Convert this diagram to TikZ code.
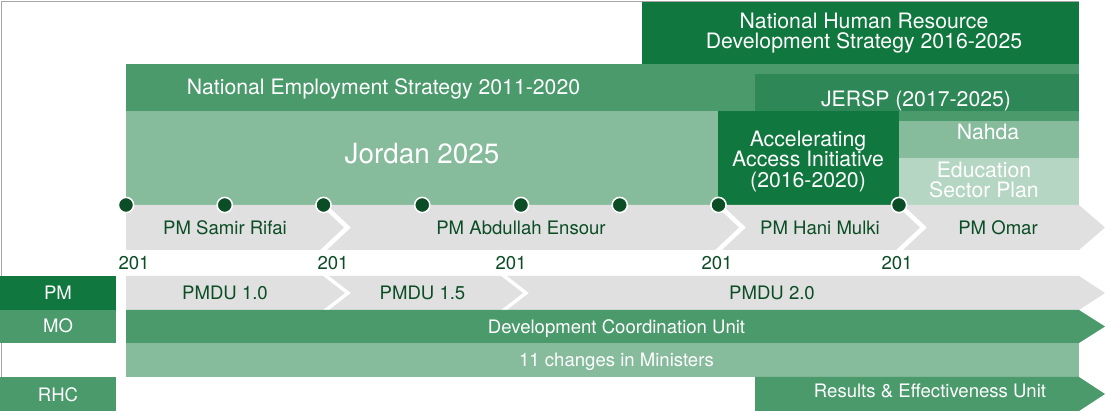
\documentclass[tikz,border=0pt]{standalone}
\usepackage{fontspec}
\setmainfont{TeX Gyre Heros}
\definecolor{deepgreen}{RGB}{16,119,62}
\definecolor{midgreen}{RGB}{74,154,108}
\definecolor{jerspgreen}{RGB}{45,135,86}
\definecolor{softgreen}{RGB}{134,187,156}
\definecolor{edugreen}{RGB}{180,214,194}
\definecolor{bandgray}{RGB}{224,224,224}
\definecolor{inkgreen}{RGB}{11,77,37}

\begin{document}
\begin{tikzpicture}[x=0.025cm, y=-0.025cm,
  lbl/.style={font=\fontsize{13.2}{15}\selectfont, text=white, anchor=base, inner sep=0pt},
  inklbl/.style={lbl, text=inkgreen},
  biglbl/.style={font=\fontsize{15.1}{15}\selectfont, text=white, anchor=base, inner sep=0pt},
  stack/.style={font=\fontsize{15.1}{#1}\selectfont, text=white, align=center, inner sep=0pt},
  milestone/.style={fill=inkgreen, draw=white, line width=1.1pt}]
\useasboundingbox (0,0) rectangle (1105,411);
\draw[gray!70, line width=0.6pt] (1,411) -- (1,1) -- (1079,1);
% strategies
\fill[deepgreen] (642, 2) rectangle (1079, 64);
\node[stack=14.2pt] (nhrd) at (864, 33) {National Human Resource\\Development Strategy 2016-2025};
\fill[midgreen] (126, 64) rectangle (1079, 121);
\node[biglbl] (nes) at (383.5, 95) {National Employment Strategy 2011-2020};
\fill[jerspgreen] (755, 74) rectangle (1079, 111);
\node[biglbl] (jersp) at (916, 106.7) {JERSP (2017-2025)};
\fill[softgreen] (126, 111) rectangle (718, 205);
\node[biglbl, font=\fontsize{19.8}{22}\selectfont] (jordan) at (422, 163.3) {Jordan 2025};
\fill[deepgreen] (718, 111) rectangle (899, 205);
\node[stack=14.9pt] (aai) at (808, 161.5) {Accelerating\\Access Initiative\\(2016-2020)};
\fill[softgreen] (899, 121) rectangle (1079, 158);
\node[biglbl] (nahda) at (988, 140) {Nahda};
\fill[edugreen] (899, 158) rectangle (1079, 205);
\node[stack=13.6pt] (esp) at (984, 180) {Education\\Sector Plan};
% prime ministers
\fill[bandgray] (126,205) -- (320,205) -- (344,227.5) -- (320,250) -- (126,250) -- cycle;
\fill[bandgray] (327,205) -- (715,205) -- (739,227.5) -- (715,250) -- (327,250) -- (351,227.5) -- cycle;
\fill[bandgray] (722,205) -- (896,205) -- (920,227.5) -- (896,250) -- (722,250) -- (746,227.5) -- cycle;
\fill[bandgray] (903,205) -- (1079,205) -- (1105,227.5) -- (1079,250) -- (903,250) -- (927,227.5) -- cycle;
\node[inklbl] (rifai) at (225, 235) {PM Samir Rifai};
\node[inklbl] (ensour) at (521, 235) {PM Abdullah Ensour};
\node[inklbl] (mulki) at (820, 235) {PM Hani Mulki};
\node[inklbl] (omar) at (998, 235) {PM Omar};
\foreach \x in {126,224.75,323.5,422.25,521,619.75,718.5,899}
  \path[milestone] (\x, 205) circle (0.19cm);
\foreach \x [count=\i] in {134,333,511,717,897}
  \node[inklbl] (year\i) at (\x, 270) {201};
% delivery units
\fill[bandgray] (126,276) -- (323,276) -- (345,293) -- (323,310) -- (126,310) -- cycle;
\fill[bandgray] (329,276) -- (501,276) -- (523,293) -- (501,310) -- (329,310) -- (351,293) -- cycle;
\fill[bandgray] (507,276) -- (1079,276) -- (1105,293) -- (1079,310) -- (507,310) -- (529,293) -- cycle;
\node[inklbl] (pmdu1) at (225, 300) {PMDU 1.0};
\node[inklbl] (pmdu2) at (422.5, 300) {PMDU 1.5};
\node[inklbl] (pmdu3) at (772, 300) {PMDU 2.0};
\fill[midgreen] (126,310) -- (1079,310) -- (1105,326.5) -- (1079,343) -- (126,343) -- cycle;
\node[lbl] (dcu) at (616.5, 333.3) {Development Coordination Unit};
\fill[softgreen] (126, 343) rectangle (1079, 377);
\node[lbl] (changes) at (616.5, 367) {11 changes in Ministers};
\fill[midgreen] (755,377) -- (1079,377) -- (1105,394) -- (1079,411) -- (755,411) -- cycle;
\node[lbl] (reu) at (930, 398) {Results \& Effectiveness Unit};
% row labels
\fill[deepgreen] (0, 276) rectangle (116, 310);
\node[lbl] (pm) at (58, 300) {PM};
\fill[midgreen] (0, 310) rectangle (116, 343);
\node[lbl] (mo) at (58, 333) {MO};
\fill[midgreen] (0, 377) rectangle (116, 411);
\node[lbl] (rhc) at (58, 402) {RHC};
\end{tikzpicture}
\end{document}
